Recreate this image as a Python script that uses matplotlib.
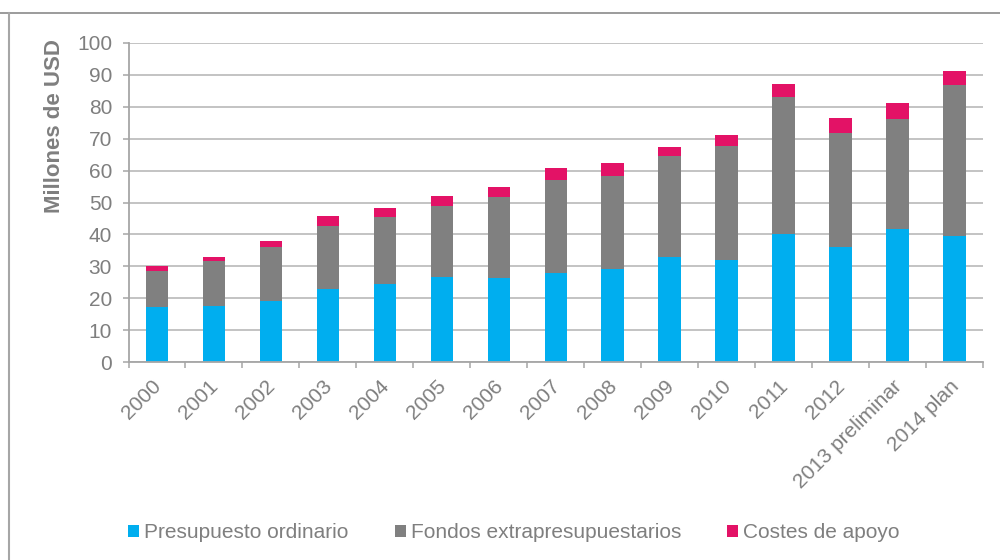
import matplotlib
matplotlib.use("Agg")
import matplotlib.pyplot as plt
from matplotlib.patches import Patch
from matplotlib.lines import Line2D
from matplotlib.transforms import ScaledTranslation
import numpy as np

plt.rcParams['font.family'] = ['Liberation Sans', 'DejaVu Sans']

categories = ["2000", "2001", "2002", "2003", "2004", "2005", "2006", "2007",
              "2008", "2009", "2010", "2011", "2012", "2013 preliminar", "2014 plan"]
presupuesto = [17.2, 17.6, 19.1, 22.8, 24.6, 26.8, 26.3, 28.0, 29.1, 32.8, 31.9, 40.2, 36.2, 41.7, 39.6]
fondos = [11.5, 14.1, 16.9, 20.0, 21.0, 22.1, 25.3, 29.1, 29.3, 31.6, 35.9, 42.7, 35.5, 34.5, 47.1]
costes = [1.5, 1.3, 1.9, 2.9, 2.8, 3.1, 3.1, 3.6, 3.9, 3.1, 3.2, 4.3, 4.6, 5.0, 4.5]
series_names = ["Presupuesto ordinario", "Fondos extrapresupuestarios", "Costes de apoyo"]
colors = ["#00AEEF", "#808080", "#E31266"]
yticks = list(range(0, 101, 10))

W, H = 1000, 560
fig = plt.figure(figsize=(W / 100, H / 100), dpi=100)
ax = fig.add_axes([128.5 / W, 1 - 362.3 / H, (983.3 - 128.5) / W, (362.3 - 42.7) / H])

x = np.arange(len(categories))
bw = 0.4
b1 = np.array(presupuesto)
b2 = b1 + np.array(fondos)
ax.bar(x, presupuesto, bw, color=colors[0], zorder=3)
ax.bar(x, fondos, bw, bottom=b1, color=colors[1], zorder=3)
ax.bar(x, costes, bw, bottom=b2, color=colors[2], zorder=3)

ax.set_xlim(-0.5, len(categories) - 0.5)
ax.set_ylim(0, 100)
ax.set_yticks(yticks)
ax.set_yticklabels([str(v) for v in yticks])
ax.yaxis.grid(True, color="#b3b3b3", lw=1.1, zorder=0)
ax.set_axisbelow(True)

axis_col = "#a6a6a6"
txt_col = "#7f7f7f"
fs = 15
for s in ["top", "right"]:
    ax.spines[s].set_visible(False)
for s in ["left", "bottom"]:
    ax.spines[s].set_color(axis_col)
    ax.spines[s].set_linewidth(1.3)
    ax.spines[s].set_zorder(4)

ax.tick_params(axis="y", length=4.3, width=1.1, color=axis_col, labelcolor=txt_col,
               labelsize=fs, pad=7.5)
ax.set_xticks(x)
ax.set_xticklabels(categories, rotation=45, ha="right", rotation_mode="anchor")
ax.tick_params(axis="x", which="major", length=0, labelcolor=txt_col, labelsize=fs, pad=15)
ax.set_xticks(np.arange(-0.5, len(categories), 1.0), minor=True)
ax.tick_params(axis="x", which="minor", length=4.3, width=1.1, color=axis_col)
shift = ScaledTranslation(1.5 / 100, 0, fig.dpi_scale_trans)
for lab in ax.get_xticklabels():
    lab.set_va("center")
    lab.set_transform(lab.get_transform() + shift)

fig.text(55 / W, 1 - 39 / H, "Millones de USD", rotation=90, ha="center", va="top",
         fontsize=16, fontweight="bold", color=txt_col)

handles = [Patch(facecolor=c, edgecolor="none") for c in colors]
fig.legend(handles, series_names, loc="center", bbox_to_anchor=(0.514, 1 - 533 / H),
           ncol=3, frameon=False, fontsize=fs, handlelength=0.53, handleheight=0.53,
           handletextpad=0.25, columnspacing=2.2, labelcolor=txt_col)

# outer chart frame
fig.add_artist(Line2D([0, 1], [1 - 13 / H, 1 - 13 / H], transform=fig.transFigure,
                      color="#8a8a8a", lw=1.2))
fig.add_artist(Line2D([8.5 / W, 8.5 / W], [0, 1 - 13 / H], transform=fig.transFigure,
                      color="#a6a6a6", lw=1.5))

fig.savefig("out.png", dpi=100)
